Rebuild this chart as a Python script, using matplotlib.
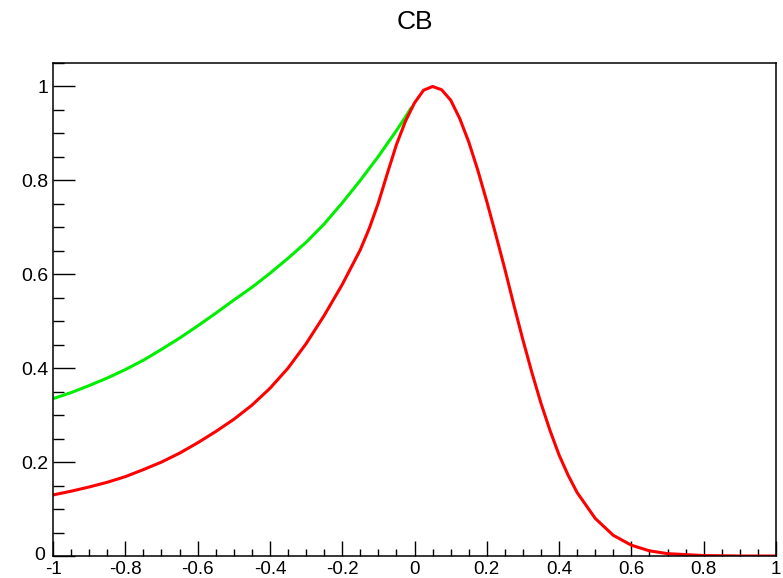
import numpy as np
from matplotlib import pyplot as plt
from matplotlib.ticker import MultipleLocator
from matplotlib.transforms import ScaledTranslation

# values
red_x = [-1.0, -0.95, -0.9, -0.85, -0.8, -0.75, -0.7, -0.65, -0.6, -0.55,
         -0.5, -0.45, -0.4, -0.35, -0.3, -0.25, -0.2, -0.15, -0.125, -0.1,
         -0.075, -0.05, -0.025, 0.0, 0.025, 0.05, 0.075, 0.1, 0.125, 0.15,
         0.175, 0.2, 0.225, 0.25, 0.275, 0.3, 0.325, 0.35, 0.375, 0.4,
         0.425, 0.45, 0.5, 0.55, 0.6, 0.65, 0.7, 0.8, 0.9, 1.0]
red_y = [0.130, 0.138, 0.147, 0.157, 0.169, 0.184, 0.200, 0.219, 0.241, 0.265,
         0.291, 0.321, 0.357, 0.400, 0.452, 0.512, 0.578, 0.652, 0.698, 0.752,
         0.815, 0.876, 0.926, 0.965, 0.992, 1.000, 0.993, 0.971, 0.932, 0.882,
         0.822, 0.755, 0.684, 0.611, 0.534, 0.460, 0.390, 0.325, 0.267, 0.215,
         0.172, 0.135, 0.080, 0.044, 0.023, 0.011, 0.005, 0.001, 0.0, 0.0]

green_x = [-1.0, -0.95, -0.9, -0.85, -0.8, -0.75, -0.7, -0.65, -0.6, -0.55,
           -0.5, -0.45, -0.4, -0.35, -0.3, -0.25, -0.2, -0.15, -0.1, -0.05,
           -0.025, -0.008]
green_y = [0.335, 0.348, 0.363, 0.379, 0.397, 0.417, 0.440, 0.464, 0.490, 0.517,
           0.545, 0.572, 0.602, 0.634, 0.668, 0.707, 0.752, 0.800, 0.851, 0.906,
           0.935, 0.956]

x_ticks = [-1, -0.8, -0.6, -0.4, -0.2, 0, 0.2, 0.4, 0.6, 0.8, 1]
x_labels = ['-1', '-0.8', '-0.6', '-0.4', '-0.2', '0', '0.2', '0.4', '0.6', '0.8', '1']
y_ticks = [0, 0.2, 0.4, 0.6, 0.8, 1]
y_labels = ['0', '0.2', '0.4', '0.6', '0.8', '1']

plt.rcParams['font.family'] = ['Liberation Sans', 'DejaVu Sans']

fig = plt.figure(figsize=(7.83, 5.78), dpi=100)
ax = fig.add_axes([53 / 783, 22 / 578, 723 / 783, 493 / 578])

ax.plot(green_x, green_y, color='#00ee00', lw=2.2, solid_capstyle='butt')
ax.plot(red_x, red_y, color='#ff0000', lw=2.2, solid_capstyle='butt')

ax.set_xlim(-1, 1)
ax.set_ylim(0, 1.05)

ax.set_xticks(x_ticks)
ax.set_xticklabels(x_labels)
ax.set_yticks(y_ticks)
ax.set_yticklabels(y_labels)
ax.xaxis.set_minor_locator(MultipleLocator(0.05))
ax.yaxis.set_minor_locator(MultipleLocator(0.05))

ax.tick_params(axis='x', which='major', direction='in', length=10.5, width=1,
               labelsize=13.5, pad=3.5, top=False)
ax.tick_params(axis='x', which='minor', direction='in', length=5.2, width=1, top=False)
ax.tick_params(axis='y', which='major', direction='in', length=15.5, width=1,
               labelsize=14, pad=3, right=False)
ax.tick_params(axis='y', which='minor', direction='in', length=8, width=1, right=False)

# nudge the "0" on the y axis so it clears the "-1" below it
lab0 = ax.get_yticklabels()[0]
lab0.set_transform(lab0.get_transform() + ScaledTranslation(-3 / 72, 1.5 / 72, fig.dpi_scale_trans))

for s in ax.spines.values():
    s.set_linewidth(1.1)
    s.set_color('black')

fig.text((53 + 776) / 2 / 783, 1 - 22 / 578, 'CB', ha='center', va='center', fontsize=19)

fig.savefig('out.png', dpi=100)
